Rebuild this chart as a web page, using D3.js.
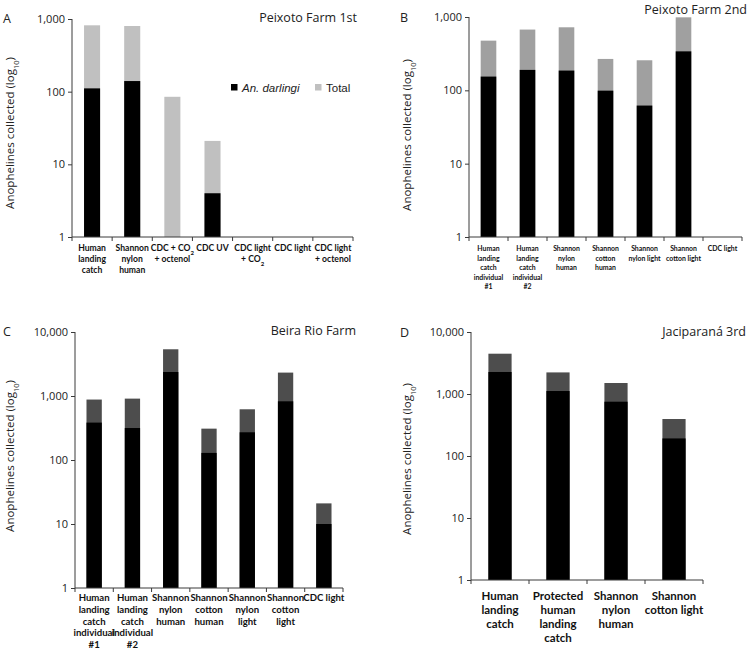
<!DOCTYPE html>
<html><head><meta charset="utf-8">
<script src="https://cdn.jsdelivr.net/npm/d3@7"></script>
<style>body{margin:0;background:#fff}svg{display:block}</style>
</head><body>
<svg id="c" width="750" height="649"></svg>
<script>
// ---------- data ----------
const catsA = [["Human","landing","catch"],["Shannon","nylon","human"],["CDC + CO2","+ octenol"],["CDC UV"],["CDC light","+ CO2"],["CDC light"],["CDC light","+ octenol"]];
const darlA = [111, 140, 0, 4, 0, 0, 0];
const totalA = [819, 801, 85, 21, 0, 0, 0];

const catsB = [["Human","landing","catch","individual","#1"],["Human","landing","catch","individual","#2"],["Shannon","nylon","human"],["Shannon","cotton","human"],["Shannon","nylon light"],["Shannon","cotton light"],["CDC light"]];
const darlB = [154, 190, 186, 99, 62, 340, 0];
const totalB = [476, 674, 724, 268, 257, 990, 0];

const catsC = [["Human","landing","catch","individual","#1"],["Human","landing","catch","individual","#2"],["Shannon","nylon","human"],["Shannon","cotton","human"],["Shannon","nylon","light"],["Shannon","cotton","light"],["CDC light"]];
const darlC = [384, 316, 2371, 129, 271, 826, 10];
const totalC = [880, 910, 5370, 309, 620, 2321, 21];

const catsD = [["Human","landing","catch"],["Protected","human","landing","catch"],["Shannon","nylon","human"],["Shannon","cotton light"]];
const darlD = [2264, 1117, 751, 192];
const totalD = [4467, 2230, 1504, 395];

const ticksA = [1, 10, 100, 1000];
const ticksC = [1, 10, 100, 1000, 10000];
const seriesNames = ["An. darlingi", "Total"];
const titles = ["Peixoto Farm 1st", "Peixoto Farm 2nd", "Beira Rio Farm", "Jaciparaná 3rd"];
const letters = ["A", "B", "C", "D"];

// ---------- layout ----------
const panels = [
  {cats: catsA, darl: darlA, total: totalA, ticks: ticksA, max: 1000, x0: 72, x1: 353, yb: 237, yt: 19, fill: "#c0c0c0",
   lab: {y: 251, dy: 11.2, fs: 8.6}, title: {x: 357, y: 22}, letter: {x: 3, y: 22.5}, ytitle: {x: 14, y: 133}},
  {cats: catsB, darl: darlB, total: totalB, ticks: ticksA, max: 1000, x0: 469, x1: 742, yb: 237, yt: 17, fill: "#a0a0a0",
   lab: {y: 251, dy: 9.6, fs: 6.9}, title: {x: 747, y: 13.5}, letter: {x: 400, y: 22}, ytitle: {x: 411, y: 135}},
  {cats: catsC, darl: darlC, total: totalC, ticks: ticksC, max: 10000, x0: 75, x1: 343, yb: 588, yt: 332, fill: "#4d4d4d",
   lab: {y: 601, dy: 11.8, fs: 9.6}, title: {x: 356, y: 335}, letter: {x: 3, y: 336}, ytitle: {x: 14, y: 456}},
  {cats: catsD, darl: darlD, total: totalD, ticks: ticksC, max: 10000, x0: 471, x1: 703, yb: 580, yt: 332, fill: "#4d4d4d",
   lab: {y: 600, dy: 14, fs: 11.5}, title: {x: 746, y: 336}, letter: {x: 400, y: 336.5}, ytitle: {x: 411, y: 459}}
];

const svg = d3.select("#c");
const axisCol = "#3a3a3a";
const sans = "'Open Sans', sans-serif";

function addLabelLine(t, str) {
  const parts = str.split("CO2");
  parts.forEach((p, i) => {
    if (p) t.append("tspan").text(p);
    if (i < parts.length - 1) {
      t.append("tspan").text("CO");
      t.append("tspan").attr("baseline-shift", "sub").attr("font-size", "70%").text("2");
    }
  });
}

panels.forEach((P, pi) => {
  const g = svg.append("g");
  const idx = d3.range(P.cats.length);
  const x = d3.scaleBand().domain(idx).range([P.x0, P.x1]).paddingInner(0.6).paddingOuter(0.3);
  const xb = d3.scaleBand().domain(idx).range([P.x0, P.x1]).padding(0);
  const y = d3.scaleLog().domain([1, P.max]).range([P.yb, P.yt]);

  // bars: total (grey) then An. darlingi (black)
  idx.forEach(i => {
    if (P.total[i] > 0) g.append("rect").attr("x", x(i)).attr("width", x.bandwidth())
      .attr("y", y(P.total[i])).attr("height", P.yb - y(P.total[i])).attr("fill", P.fill);
    if (P.darl[i] > 0) g.append("rect").attr("x", x(i)).attr("width", x.bandwidth())
      .attr("y", y(P.darl[i])).attr("height", P.yb - y(P.darl[i])).attr("fill", "#000");
  });

  // y axis
  const ya = d3.axisLeft(y).tickValues(P.ticks).tickFormat(d3.format(",")).tickSize(4).tickPadding(3);
  const yg = g.append("g").attr("transform", `translate(${P.x0},0)`).call(ya);
  yg.select(".domain").attr("stroke", axisCol).attr("d", `M0,${P.yt}V${P.yb}`);
  yg.selectAll(".tick line").attr("stroke", axisCol);
  yg.selectAll("text").attr("font-family", sans).attr("font-size", 11).attr("fill", "#222");

  // x axis with ticks at band boundaries
  const xa = g.append("g");
  xa.append("line").attr("x1", P.x0).attr("x2", P.x1).attr("y1", P.yb).attr("y2", P.yb).attr("stroke", axisCol);
  const bounds = idx.map(i => xb(i)).concat([P.x1]);
  xa.selectAll("line.t").data(bounds).enter().append("line").attr("class", "t")
    .attr("x1", d => d).attr("x2", d => d).attr("y1", P.yb).attr("y2", P.yb + 4).attr("stroke", axisCol);

  // category labels
  idx.forEach(i => {
    const cx = x(i) + x.bandwidth() / 2;
    P.cats[i].forEach((line, li) => {
      const t = g.append("text").attr("x", cx).attr("y", P.lab.y + li * P.lab.dy)
        .attr("text-anchor", "middle").attr("font-family", "Lato, sans-serif").attr("font-weight", "bold")
        .attr("font-size", P.lab.fs).attr("fill", "#111");
      addLabelLine(t, line);
    });
  });

  // title & letter
  g.append("text").attr("x", P.title.x).attr("y", P.title.y).attr("text-anchor", "end")
    .attr("font-family", sans).attr("font-size", 12.5).attr("fill", "#222").text(titles[pi]);
  g.append("text").attr("x", P.letter.x).attr("y", P.letter.y)
    .attr("font-family", sans).attr("font-size", 12.5).attr("fill", "#222").text(letters[pi]);

  // y axis title
  const yt = g.append("text").attr("transform", `translate(${P.ytitle.x},${P.ytitle.y}) rotate(-90)`)
    .attr("text-anchor", "middle").attr("font-family", sans).attr("font-size", 11.5).attr("fill", "#222");
  yt.append("tspan").text("Anophelines collected (log");
  yt.append("tspan").attr("baseline-shift", "sub").attr("font-size", "65%").text("10");
  yt.append("tspan").text(")");
});

// legend (panel A)
const leg = svg.append("g");
const legCols = ["#000", panels[0].fill];
const legX = [231, 315];
seriesNames.forEach((n, i) => {
  leg.append("rect").attr("x", legX[i]).attr("y", 84).attr("width", 6.5).attr("height", 6.5).attr("fill", legCols[i]);
  leg.append("text").attr("x", legX[i] + 11).attr("y", 91.5).attr("font-family", "'Liberation Sans', Arial, sans-serif")
    .attr("font-size", 11.5).attr("font-style", i === 0 ? "italic" : "normal").attr("fill", "#222").text(n);
});
</script>
</body></html>
